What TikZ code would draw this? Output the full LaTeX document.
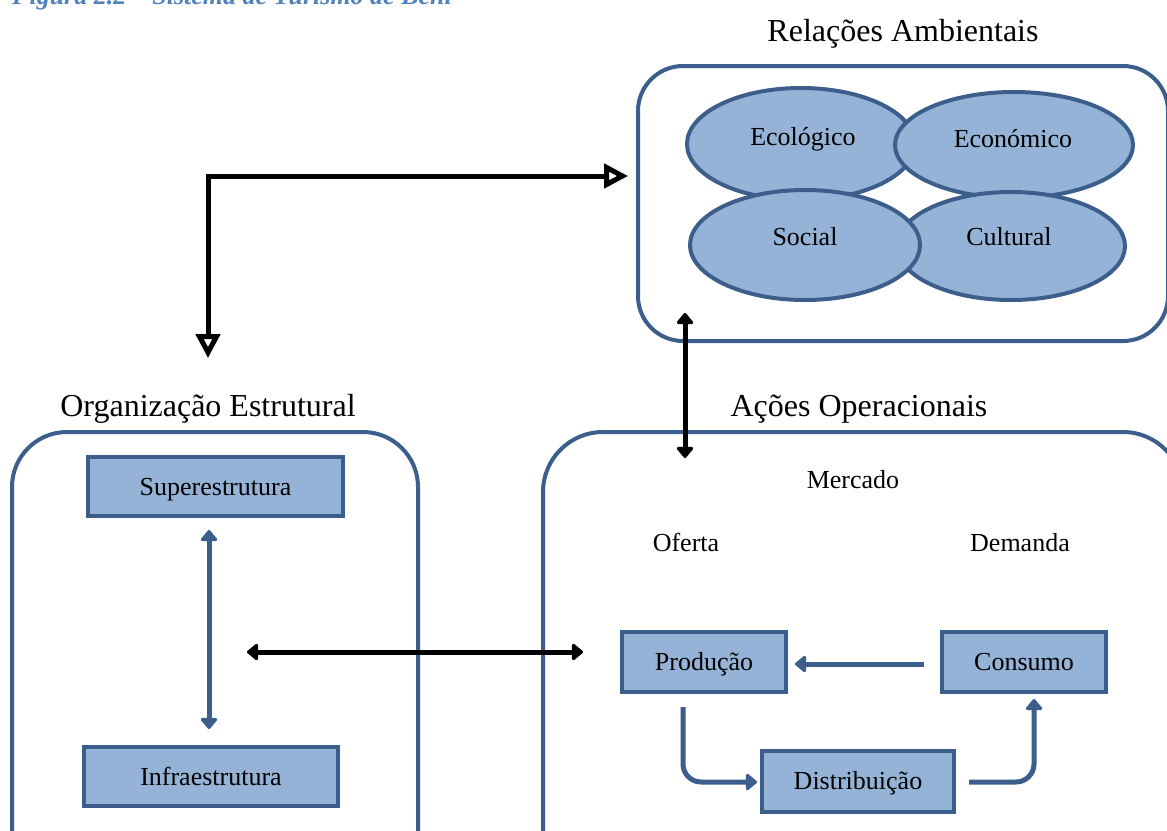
\documentclass[tikz,border=0pt]{standalone}
\usepackage{fontspec}
\setmainfont{Liberation Serif}
\usetikzlibrary{arrows.meta,shapes.geometric,calc}
\definecolor{frame}{RGB}{59,94,140}
\definecolor{boxfill}{RGB}{149,179,215}
\definecolor{captionblue}{RGB}{79,129,189}

\begin{document}
\begin{tikzpicture}[x=1pt,y=-1pt,
  panel/.style={draw=frame, line width=4pt, inner sep=0pt, outer sep=0pt},
  blob/.style={ellipse, draw=frame, fill=boxfill, line width=4pt, inner sep=0pt},
  rbox/.style={rectangle, draw=frame, fill=boxfill, line width=4pt, inner sep=0pt,
    text height=20pt, text depth=3pt, font=\fontsize{26}{30}\selectfont},
  small/.style={font=\fontsize{26}{30}\selectfont, inner sep=0pt, anchor=base},
  big/.style={font=\fontsize{32}{38}\selectfont, inner sep=0pt, anchor=base},
  bluearrow/.style={draw=frame, line width=5pt, -{Triangle[length=12pt,width=19pt,round]}},
  blackboth/.style={draw=black, line width=5pt,
    {Triangle[length=12pt,width=19pt,round]}-{Triangle[length=12pt,width=19pt,round]}},
  blueboth/.style={draw=frame, line width=5pt,
    {Triangle[length=12pt,width=19pt,round]}-{Triangle[length=12pt,width=19pt,round]}},
  openboth/.style={draw=black, line width=5pt,
    {Triangle[open,length=24pt,width=24pt]}-{Triangle[open,length=24pt,width=24pt]}}
]
\useasboundingbox (0,0) rectangle (1167,830);
\clip (0,0) rectangle (1167,830);

% caption at the top edge
\node[anchor=base west, inner sep=0pt, text=captionblue,
  font=\fontsize{26}{30}\selectfont\bfseries\itshape] (caption) at (12,4)
  {Figura 2.2 – Sistema de Turismo de Beni};

% ---- Relações Ambientais ----
\node[big] (reltitle) at (903,41) {Relações Ambientais};
\node[panel, rounded corners=45pt, minimum width=530pt, minimum height=275pt]
  (relpanel) at (903,203.5) {};
\node[blob, minimum width=228pt, minimum height=112pt] (eco) at (801,144) {};
\node[blob, minimum width=238pt, minimum height=106pt] (econ) at (1014,145) {};
\node[blob, minimum width=228pt, minimum height=108pt] (cult) at (1011,246) {};
\node[blob, minimum width=230pt, minimum height=110pt] (soc) at (805,245) {};
\node[small] (ecot) at (803,145) {Ecológico};
\node[small] (econt) at (1013,147) {Económico};
\node[small] (soct) at (805,245) {Social};
\node[small] (cultt) at (1009,245) {Cultural};

% ---- Organização Estrutural ----
\node[big] (orgtitle) at (208,416) {Organização Estrutural};
\node[panel, rounded corners=55pt, minimum width=406pt, minimum height=460pt]
  (orgpanel) at (215,662) {};
\node[rbox, minimum width=255pt, minimum height=59pt] (sup) at (215.5,486.5) {Superestrutura};
\node[rbox, minimum width=254pt, minimum height=59pt] (inf) at (211,776.5) {Infraestrutura};

% ---- Ações Operacionais ----
\node[big] (acotitle) at (859,416) {Ações Operacionais};
\node[panel, rounded corners=60pt, minimum width=640pt, minimum height=460pt]
  (acopanel) at (863,662) {};
\node[small] (mercado) at (853,488) {Mercado};
\node[small] (oferta) at (686,551) {Oferta};
\node[small] (demanda) at (1020,551) {Demanda};
\node[rbox, minimum width=164pt, minimum height=60pt] (prod) at (704,662) {Produção};
\node[rbox, minimum width=164pt, minimum height=60pt] (cons) at (1024,662) {Consumo};
\node[rbox, minimum width=192pt, minimum height=61pt] (dist) at (858,781) {Distribuição};

% ---- connectors ----
\coordinate (elbowdown) at (208,358);
\coordinate (elbowright) at (628,176);
\draw[openboth] (elbowdown) |- (elbowright);

\coordinate (vtop) at (685,313);
\coordinate (vbot) at (685,458);
\draw[blackboth] (vtop) -- (vbot);

\coordinate (hleft) at (247,652);
\coordinate (hright) at (583,652);
\draw[blackboth] (hleft) -- (hright);

\draw[blueboth] ($(sup.south)+(-6.5,12)$) -- ($(inf.north)+(-2,-16)$);

\draw[bluearrow] ($(cons.west)+(-16,2)$) -- ($(prod.east)+(7,2)$);
\draw[bluearrow, rounded corners=18pt]
  ($(prod.south)+(-21,13)$) |- ($(dist.west)+(-3,1)$);
\draw[bluearrow, rounded corners=18pt]
  ($(dist.east)+(13,1)$) -| ($(cons.south)+(10,5)$);
\end{tikzpicture}
\end{document}
